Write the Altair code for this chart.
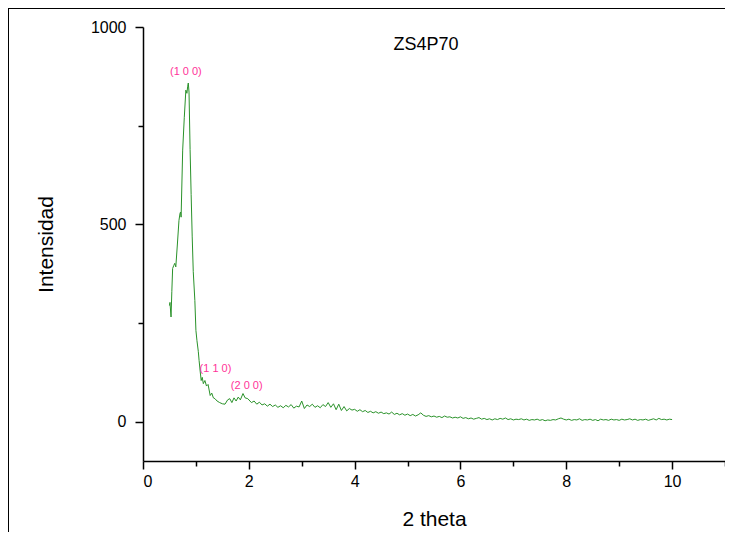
import altair as alt
import pandas as pd

# --- curve data (2 theta vs intensity) ---
x_peak = [0.50, 0.51, 0.53, 0.545, 0.56, 0.58, 0.60, 0.62, 0.65, 0.68, 0.70, 0.71, 0.72,
          0.75, 0.78, 0.81, 0.83, 0.845, 0.856, 0.87, 0.89, 0.91, 0.93, 0.95, 0.98, 1.00,
          1.02, 1.045, 1.06, 1.08, 1.10, 1.12, 1.14, 1.17, 1.20, 1.23, 1.27, 1.30, 1.33,
          1.36, 1.40, 1.45, 1.50, 1.55, 1.60, 1.64, 1.68, 1.72, 1.76, 1.80, 1.84, 1.89,
          1.93, 1.98]
y_peak = [294, 302, 265, 330, 388, 395, 401, 392, 450, 510, 528, 531, 518,
          688, 770, 840, 832, 850, 858, 835, 690, 575, 468, 380, 307, 231,
          205, 178, 155, 128, 104, 112, 96, 104, 90, 94, 66, 72, 60,
          58, 52, 48, 45, 44, 55, 58, 48, 60, 52, 62, 55, 71,
          60, 58]

x_tail = [2.05, 2.10, 2.15, 2.20, 2.25, 2.30, 2.35, 2.40, 2.45, 2.50, 2.55, 2.60, 2.65, 2.70,
          2.75, 2.80, 2.85, 2.90, 2.95, 3.00, 3.05, 3.10, 3.15, 3.20, 3.25, 3.30, 3.35, 3.40,
          3.45, 3.50, 3.55, 3.60, 3.65, 3.70, 3.75, 3.80, 3.85, 3.90, 3.95, 4.00, 4.05, 4.10,
          4.15, 4.20, 4.25, 4.30, 4.35, 4.40, 4.45, 4.50, 4.55, 4.60, 4.65, 4.70, 4.75, 4.80,
          4.85, 4.90, 4.95, 5.00, 5.05, 5.10, 5.15, 5.20, 5.25, 5.30, 5.35, 5.40, 5.45, 5.50,
          5.55, 5.60, 5.65, 5.70, 5.75, 5.80, 5.85, 5.90, 5.95, 6.00, 6.05, 6.10, 6.15, 6.20,
          6.25, 6.30, 6.35, 6.40, 6.45, 6.50, 6.55, 6.60, 6.65, 6.70, 6.75, 6.80, 6.85, 6.90,
          6.95, 7.00, 7.05, 7.10, 7.15, 7.20, 7.25, 7.30, 7.35, 7.40, 7.45, 7.50, 7.55, 7.60,
          7.65, 7.70, 7.75, 7.80, 7.85, 7.90, 7.95, 8.00, 8.05, 8.10, 8.15, 8.20, 8.25, 8.30,
          8.35, 8.40, 8.45, 8.50, 8.55, 8.60, 8.65, 8.70, 8.75, 8.80, 8.85, 8.90, 8.95, 9.00,
          9.05, 9.10, 9.15, 9.20, 9.25, 9.30, 9.35, 9.40, 9.45, 9.50, 9.55, 9.60, 9.65, 9.70,
          9.75, 9.80, 9.85, 9.90, 9.95, 10.00]
y_tail = [48, 52, 44, 49, 42, 45, 39, 44, 38, 42, 36, 40, 35, 41,
          37, 43, 34, 39, 37, 52, 33, 42, 38, 44, 36, 40, 35, 43,
          38, 48, 36, 45, 30, 44, 28, 38, 27, 33, 29, 31, 26, 30,
          25, 28, 23, 26, 22, 25, 21, 24, 20, 22, 19, 24, 18, 21,
          17, 20, 16, 19, 15, 18, 14, 17, 22, 16, 13, 15, 12, 14,
          11, 13, 10, 14, 11, 12, 9, 11, 9, 12, 8, 10, 7, 9,
          6, 8, 10, 6, 8, 5, 7, 4, 7, 5, 8, 6, 9, 5,
          7, 4, 6, 5, 7, 4, 6, 3, 5, 4, 6, 3, 5, 2,
          4, 3, 5, 4, 7, 9, 6, 4, 6, 3, 5, 4, 7, 3,
          5, 4, 6, 3, 5, 2, 6, 4, 5, 3, 6, 4, 5, 3,
          6, 4, 5, 7, 4, 6, 3, 5, 4, 6, 3, 5, 7, 4,
          8, 5, 6, 4, 6, 5]

# --- peak annotations ---
ann_labels = ["(1 0 0)", "(1 1 0)", "(2 0 0)"]
ann_x = [0.81, 1.37, 1.96]
ann_y = [886, 132, 91]

# --- chart title inside plot ---
title_text = ["ZS4P70"]
title_x = [5.35]
title_y = [955]

curve = pd.DataFrame({"x": x_peak + x_tail, "y": y_peak + y_tail})
ann = pd.DataFrame({"label": ann_labels, "x": ann_x, "y": ann_y})
ttl = pd.DataFrame({"label": title_text, "x": title_x, "y": title_y})

FONT = "Liberation Sans"
xs = alt.Scale(domain=[0, 11], nice=False, zero=False)
ys = alt.Scale(domain=[-100, 1000], nice=False, zero=False)

x_axis = alt.Axis(
    title="2 theta", values=list(range(0, 12)), format="d",
    labelExpr="(datum.value % 2 === 0 && datum.value <= 10) ? datum.label : ''",
    tickSize={"condition": {"test": "datum.value % 2 === 0 && datum.value <= 10", "value": 8}, "value": 5},
    grid=False, labelOverlap=False, labelFont=FONT, labelFontSize=16, labelColor="black",
    labelPadding=4, titleFont=FONT, titleFontSize=21, titleFontWeight="normal",
    titleColor="black", titlePadding=19, domainColor="black", domainWidth=1.5,
    tickColor="black", tickWidth=1.5,
)
y_axis = alt.Axis(
    title="Intensidad", values=[0, 250, 500, 750, 1000], format="d",
    labelExpr="datum.value % 500 === 0 ? datum.label : ''",
    tickSize={"condition": {"test": "datum.value % 500 === 0", "value": 8}, "value": 5},
    grid=False, labelOverlap=False, labelFont=FONT, labelFontSize=16, labelColor="black",
    labelPadding=9, titleFont=FONT, titleFontSize=21, titleFontWeight="normal",
    titleColor="black", titlePadding=34, domainColor="black", domainWidth=1.5,
    tickColor="black", tickWidth=1.5,
)

line = alt.Chart(curve).mark_line(color="#2a922a", strokeWidth=1).encode(
    x=alt.X("x:Q", scale=xs, axis=x_axis),
    y=alt.Y("y:Q", scale=ys, axis=y_axis),
    order="x:Q",
)

labels = alt.Chart(ann).mark_text(color="#ff3399", font=FONT, fontSize=11).encode(
    x=alt.X("x:Q", scale=xs), y=alt.Y("y:Q", scale=ys), text="label:N"
)

title = alt.Chart(ttl).mark_text(color="black", font=FONT, fontSize=18).encode(
    x=alt.X("x:Q", scale=xs), y=alt.Y("y:Q", scale=ys), text="label:N"
)

# figure frame (top and left edges visible in the reference)
dummy = pd.DataFrame({"a": [0]})
frame_top = alt.Chart(dummy).mark_rule(color="black", strokeWidth=2).encode(
    x=alt.value(-135), x2=alt.value(582), y=alt.value(-19)
)
frame_left = alt.Chart(dummy).mark_rule(color="black", strokeWidth=2).encode(
    x=alt.value(-135), y=alt.value(-19), y2=alt.value(505)
)

chart = alt.layer(line, labels, title, frame_top, frame_left).properties(
    width=582, height=434,
    padding={"left": 135, "top": 19, "right": 0, "bottom": 71},
    autosize="none",
    background="white",
).configure_view(stroke=None)

chart.save("out.html", embed_options={"renderer": "svg", "actions": False})
